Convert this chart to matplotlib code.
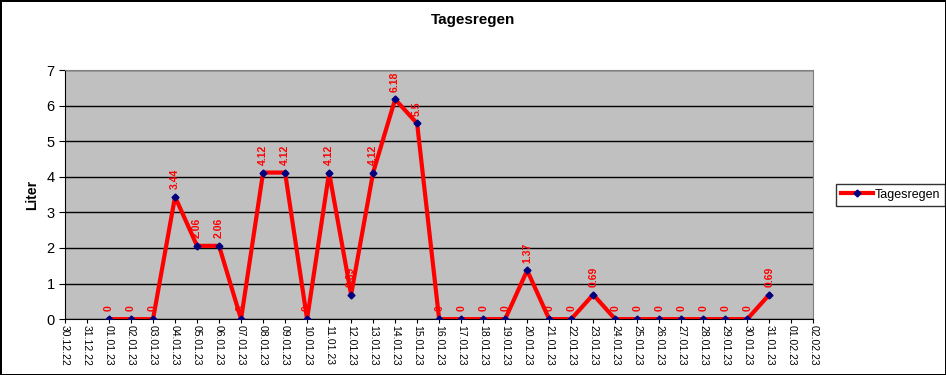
import matplotlib
matplotlib.use("Agg")
import matplotlib.pyplot as plt

plt.rcParams['font.family'] = ['Liberation Sans', 'DejaVu Sans']

# tick labels on the x axis (30.12.22 .. 02.02.23)
tickLabels = ["30.12.22", "31.12.22",
              "01.01.23", "02.01.23", "03.01.23", "04.01.23", "05.01.23", "06.01.23",
              "07.01.23", "08.01.23", "09.01.23", "10.01.23", "11.01.23", "12.01.23",
              "13.01.23", "14.01.23", "15.01.23", "16.01.23", "17.01.23", "18.01.23",
              "19.01.23", "20.01.23", "21.01.23", "22.01.23", "23.01.23", "24.01.23",
              "25.01.23", "26.01.23", "27.01.23", "28.01.23", "29.01.23", "30.01.23",
              "31.01.23", "01.02.23", "02.02.23"]

# rain per day, 01.01.23 .. 31.01.23
rainDays = tickLabels[2:33]
rain = [0, 0, 0, 3.44, 2.06, 2.06, 0, 4.12, 4.12, 0, 4.12, 0.69, 4.12, 6.18, 5.5,
        0, 0, 0, 0, 1.37, 0, 0, 0.69, 0, 0, 0, 0, 0, 0, 0, 0.69]

fig = plt.figure(figsize=(9.46, 3.75), dpi=100)
fig.patch.set_facecolor("white")
fig.patch.set_edgecolor("black")
fig.patch.set_linewidth(2)

ax = fig.add_axes([0.0687, 0.149, 0.791, 0.664])
ax.set_facecolor("#c0c0c0")

xPos = [tickLabels.index(d) for d in rainDays]
ax.plot(xPos, rain, color="red", linewidth=3, marker="D", markersize=3.5,
        markerfacecolor="#000080", markeredgecolor="#000080", label="Tagesregen",
        zorder=3)

# data labels
for x, v in zip(xPos, rain):
    ax.annotate(f"{v:g}", (x, v), xytext=(0, 5.5), textcoords="offset points",
                rotation=90, ha="center", va="bottom", color="red",
                fontsize=7.5, fontweight="bold")

ax.set_xlim(0, len(tickLabels) - 1)
ax.set_ylim(0, 7)
ax.set_xticks(range(len(tickLabels)))
ax.set_xticklabels(tickLabels, rotation=270, fontsize=7.5)
ax.set_yticks(range(8))
ax.tick_params(axis="y", labelsize=10.5, length=4, direction="out")
ax.tick_params(axis="x", length=3, direction="out", pad=1)

ax.yaxis.grid(True, color="black", linewidth=1)
ax.set_axisbelow(True)
ax.spines["top"].set_color("#808080")
ax.spines["right"].set_color("#808080")

ax.set_ylabel("Liter", fontsize=10, fontweight="bold", labelpad=5)
fig.suptitle("Tagesregen", x=0.5, y=0.965, fontsize=11, fontweight="bold")

leg = ax.legend(loc="center left", bbox_to_anchor=(1.022, 0.5), fontsize=9,
                frameon=True, fancybox=False, edgecolor="black",
                handlelength=2.6, borderpad=0.4, handletextpad=0.1)
leg.get_frame().set_linewidth(1)

plt.savefig("out.png", dpi=100, edgecolor=fig.get_edgecolor())
